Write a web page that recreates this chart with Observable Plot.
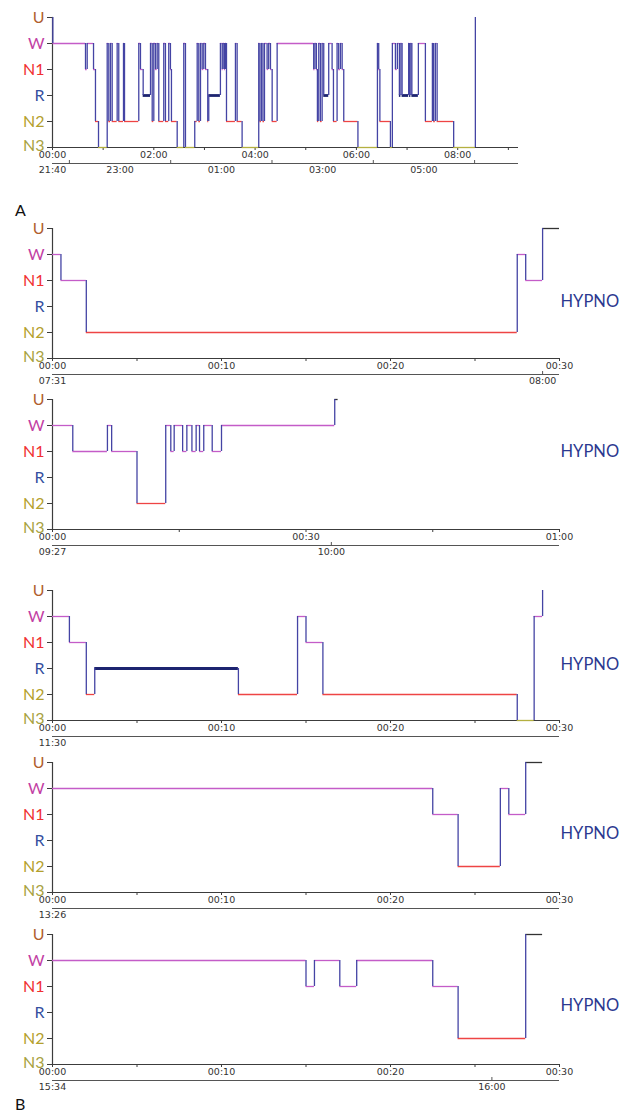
<!DOCTYPE html>
<html><head><meta charset="utf-8">
<script src="https://cdn.jsdelivr.net/npm/d3@7"></script>
<script src="https://cdn.jsdelivr.net/npm/@observablehq/plot@0.6"></script>
<style>
body{margin:0;background:#fff;}
#wrap{position:relative;width:622px;height:1112px;overflow:hidden;background:#fff;}
#wrap svg{position:absolute;left:0;background:none;}
.tag{position:absolute;font-family:Lato,sans-serif;font-size:16px;color:#111;}
</style></head><body><div id="wrap"></div>
<script>
// stage order bottom -> top
const stageOrder = ["N3", "N2", "R", "N1", "W", "U"];
const labelColor = {U: "#b0602f", W: "#c23ea4", N1: "#f03030", R: "#3550a0", N2: "#b4a02c", N3: "#a8a23e"};
const lineColor = {U: "#333333", W: "#c45cc8", N1: "#c45cc8", R: "#1d2470", N2: "#ee4444", N3: "#b4b040"};

// Panel A: whole night (minutes from 00:00 = 21:40)
const nightStart = [0, 0.4, 39.1, 41.1, 48.6, 50.9, 54.5, 64.8, 66.7, 68.7, 70.7, 76.6, 78.5, 84.1, 85.3, 102.2, 104.2, 107.4, 116.1, 118.1, 120.0, 122.0, 124.0, 125.9, 131.8, 133.8, 137.7, 139.7, 140.9, 147.7, 155.5, 157.5, 168.5, 171.4, 173.3, 175.3, 177.3, 179.2, 181.2, 183.9, 185.1, 198.9, 201.0, 202.1, 203.7, 204.9, 206.1, 216.7, 218.7, 224.6, 244.3, 245.7, 247.5, 249.3, 251.1, 254.2, 256.1, 258.2, 260.2, 266.1, 309.4, 310.9, 312.6, 313.8, 315.4, 317.4, 319.4, 321.3, 327.2, 331.2, 332.8, 337.1, 339.0, 341.1, 343.1, 345.0, 361.8, 384.9, 386.4, 387.8, 400.3, 402.6, 406.2, 408.5, 410.9, 412.7, 414.1, 421.9, 423.0, 424.5, 425.7, 433.4, 441.7, 450.0, 451.5, 453.5, 455.6, 475.2, 500.9];
const nightStage = ["U", "W", "N1", "W", "N1", "N2", "N3", "W", "N2", "W", "N2", "W", "N2", "W", "N2", "W", "N1", "R", "W", "N2", "W", "N1", "W", "N2", "W", "N2", "W", "N1", "N2", "N3", "W", "N3", "N2", "W", "N2", "W", "N1", "W", "N1", "N2", "R", "W", "N1", "W", "N1", "W", "N2", "W", "N2", "N3", "W", "N2", "W", "N2", "W", "N1", "W", "N1", "N2", "W", "N1", "W", "N1", "N2", "W", "N2", "W", "R", "W", "N1", "N2", "W", "N1", "W", "N1", "N2", "N3", "W", "N1", "N2", "N3", "W", "N1", "W", "R", "W", "R", "W", "R", "W", "R", "W", "N2", "W", "N2", "W", "N2", "N3", "U"];
const nightEnd = 500.9;
const nightTicks = [0, 60, 120, 180, 240, 300, 360, 420, 480, 540];
const nightTickAt = [0, 120, 240, 360, 480];
const nightTickLabels = ["00:00", "02:00", "04:00", "06:00", "08:00"];
const nightClockTicks = [20, 140, 260, 380, 500];
const nightClockAt = [0, 80, 200, 320, 440];
const nightClockLabels = ["21:40", "23:00", "01:00", "03:00", "05:00"];

// Panels B (naps)
const nap1Start = [0, 0.5, 2.0, 27.5, 28.0, 29.0];
const nap1Stage = ["W", "N1", "N2", "W", "N1", "U"];
const nap1End = 30;
const nap2Start = [0, 2.4, 6.5, 7.0, 10.0, 13.4, 14.0, 14.4, 15.4, 15.9, 16.5, 17.0, 17.4, 17.9, 18.9, 20.0, 33.4];
const nap2Stage = ["W", "N1", "W", "N1", "N2", "W", "N1", "W", "N1", "W", "N1", "W", "N1", "W", "N1", "W", "U"];
const nap2End = 33.8;
const nap3Start = [0, 1.0, 2.0, 2.5, 11.0, 14.5, 15.0, 16.0, 27.5, 28.5, 29.0];
const nap3Stage = ["W", "N1", "N2", "R", "N2", "W", "N1", "N2", "N3", "W", "U"];
const nap3End = 29.0;
const nap4Start = [0, 22.5, 24.0, 26.5, 27.0, 28.0];
const nap4Stage = ["W", "N1", "N2", "W", "N1", "U"];
const nap4End = 29.0;
const nap5Start = [0, 15.0, 15.5, 17.0, 18.0, 22.5, 24.0, 28.0];
const nap5Stage = ["W", "N1", "W", "N1", "W", "N1", "N2", "U"];
const nap5End = 29.0;

const napTicks30 = [0, 5, 10, 15, 20, 25, 30];
const napTickAt30 = [0, 10, 20, 30];
const napTickLabels30 = ["00:00", "00:10", "00:20", "00:30"];
const napTicks60 = [0, 15, 30, 45, 60];
const napTickAt60 = [0, 30, 60];
const napTickLabels60 = ["00:00", "00:30", "01:00"];

const napClock = [
  {at: [0, 29], labels: ["07:31", "08:00"], ticks: [29]},
  {at: [0, 33], labels: ["09:27", "10:00"], ticks: [33]},
  {at: [0], labels: ["11:30"], ticks: []},
  {at: [0], labels: ["13:26"], ticks: []},
  {at: [0, 26], labels: ["15:34", "16:00"], ticks: [26]}
];

const axisColor = "#3c3c3c";
const wrap = document.getElementById("wrap");
const yi = s => stageOrder.indexOf(s);

function panel({top, start, stage, end, dur, xEnd, ticks, tickAt, tickLabels, clockTicks, clockAt, clockLabels, hypnoY}) {
  const H = [], V = [];
  for (let i = 0; i < start.length; i++) {
    const t2 = i < start.length - 1 ? start[i + 1] : end;
    if (t2 > start[i]) H.push({t1: start[i], t2, s: stage[i]});
    if (i > 0 && stage[i] !== stage[i - 1]) V.push({t: start[i], a: stage[i - 1], b: stage[i]});
  }
  const mt = 10, inner = 130, mb = 36, ml = 52;
  const innerW = xEnd - ml;
  const labelOpts = {y: yi, text: d => d, frameAnchor: "left", textAnchor: "end", dx: -8, fill: d => labelColor[d], fontSize: 16, fontFamily: "Lato"};
  const marks = [
    Plot.ruleY([0], {stroke: axisColor, strokeWidth: 1}),
    Plot.ruleY([0], {stroke: "#555", strokeWidth: 1, dy: 16}),
    Plot.ruleX([0], {stroke: axisColor, strokeWidth: 1.2}),
    Plot.tickY(stageOrder, {y: yi, insetRight: innerW - 5, dx: -5, stroke: axisColor}),
    Plot.tickX(ticks, {x: d => d, insetTop: inner - 3, dy: 3, stroke: axisColor}),
    Plot.tickX(clockTicks, {x: d => d, insetTop: inner - 3, dy: 16, stroke: "#555"}),
    Plot.text(tickAt, {x: d => d, text: (d, i) => tickLabels[i], frameAnchor: "bottom", dy: 10.5, fontSize: 9.5, fill: "#333"}),
    Plot.text(clockAt, {x: d => d, text: (d, i) => clockLabels[i], frameAnchor: "bottom", dy: 25, fontSize: 9.5, fill: "#333"}),
    Plot.text(stageOrder.filter(d => d !== "N3"), labelOpts),
    Plot.text(["N3"], {...labelOpts, dy: -2}),
    Plot.ruleY(H.filter(d => d.s !== "R"), {y: d => yi(d.s), x1: "t1", x2: "t2", stroke: d => lineColor[d.s], strokeWidth: 1.3}),
    Plot.ruleY(H.filter(d => d.s === "R"), {y: d => yi(d.s), x1: "t1", x2: "t2", stroke: d => lineColor[d.s], strokeWidth: 2.8}),
    Plot.ruleX(V, {x: "t", y1: d => yi(d.a), y2: d => yi(d.b), stroke: "#4444a4", strokeWidth: 1.3})
  ];
  if (hypnoY != null) {
    marks.push(Plot.text([hypnoY], {y: d => d, text: () => "HYPNO", frameAnchor: "right", textAnchor: "start", dx: 1, fontSize: 16.5, fontFamily: "Lato", fill: "#2b3990"}));
  }
  const svg = Plot.plot({
    width: 622, height: mt + inner + mb,
    marginLeft: ml, marginRight: 622 - xEnd, marginTop: mt, marginBottom: mb,
    x: {domain: [0, dur], axis: null},
    y: {domain: [0, 5], axis: null},
    color: {type: "identity"},
    style: {fontFamily: "DejaVu Sans", background: "none", overflow: "visible"},
    marks
  });
  svg.style.top = (top - mt) + "px";
  wrap.appendChild(svg);
}

panel({top: 17, start: nightStart, stage: nightStage, end: nightEnd, dur: 552, xEnd: 518,
  ticks: nightTicks, tickAt: nightTickAt, tickLabels: nightTickLabels,
  clockTicks: nightClockTicks, clockAt: nightClockAt, clockLabels: nightClockLabels, hypnoY: null});

const naps = [
  {top: 228, start: nap1Start, stage: nap1Stage, end: nap1End, dur: 30, hy: 2.2},
  {top: 399, start: nap2Start, stage: nap2Stage, end: nap2End, dur: 60, hy: 3.0},
  {top: 590, start: nap3Start, stage: nap3Stage, end: nap3End, dur: 30, hy: 2.15},
  {top: 762, start: nap4Start, stage: nap4Stage, end: nap4End, dur: 30, hy: 2.25},
  {top: 934, start: nap5Start, stage: nap5Stage, end: nap5End, dur: 30, hy: 2.25}
];
naps.forEach((n, k) => {
  const is60 = n.dur === 60;
  panel({top: n.top, start: n.start, stage: n.stage, end: n.end, dur: n.dur, xEnd: 559,
    ticks: is60 ? napTicks60 : napTicks30,
    tickAt: is60 ? napTickAt60 : napTickAt30,
    tickLabels: is60 ? napTickLabels60 : napTickLabels30,
    clockTicks: napClock[k].ticks, clockAt: napClock[k].at, clockLabels: napClock[k].labels,
    hypnoY: n.hy});
});

const tagA = document.createElement("div");
tagA.className = "tag"; tagA.textContent = "A";
tagA.style.left = "15px"; tagA.style.top = "200px";
wrap.appendChild(tagA);
const tagB = document.createElement("div");
tagB.className = "tag"; tagB.textContent = "B";
tagB.style.left = "15px"; tagB.style.top = "1094px";
wrap.appendChild(tagB);
</script></body></html>
